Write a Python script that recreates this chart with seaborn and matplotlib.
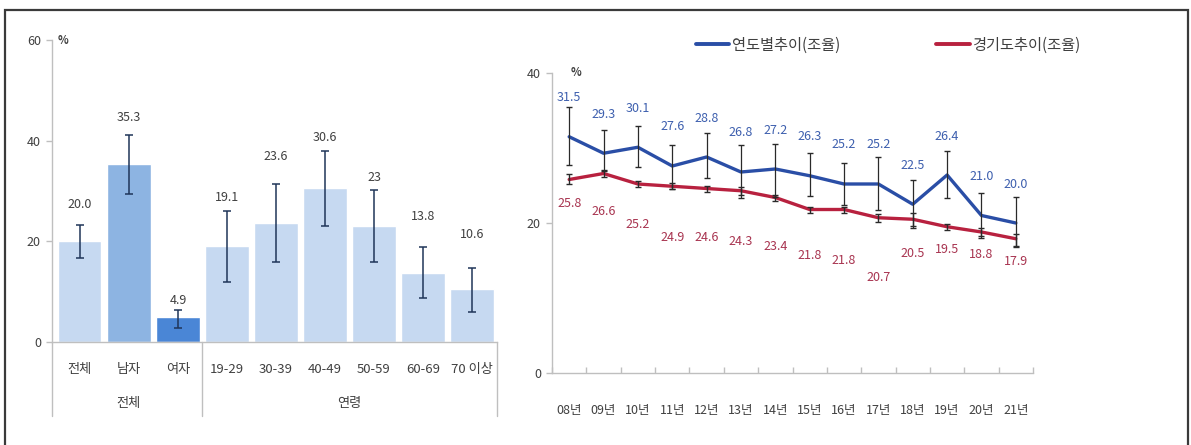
import matplotlib
matplotlib.use("Agg")
import matplotlib.pyplot as plt
import matplotlib.transforms as mtransforms
from matplotlib.patches import Rectangle
from matplotlib.lines import Line2D
import seaborn as sns
import numpy as np
import pandas as pd

# ---------------- data ----------------
bar_cats = ["전체", "남자", "여자", "19-29", "30-39", "40-49", "50-59", "60-69", "70 이상"]
bar_vals = [20.0, 35.3, 4.9, 19.1, 23.6, 30.6, 23.0, 13.8, 10.6]
bar_labels = ["20.0", "35.3", "4.9", "19.1", "23.6", "30.6", "23", "13.8", "10.6"]
bar_lo = [16.6, 29.4, 2.8, 12.0, 15.8, 23.0, 15.8, 8.8, 6.0]
bar_hi = [23.2, 41.2, 6.4, 26.0, 31.4, 38.0, 30.2, 18.8, 14.8]
groups = ["전체", "연령"]

years = ["08년", "09년", "10년", "11년", "12년", "13년", "14년",
         "15년", "16년", "17년", "18년", "19년", "20년", "21년"]
nat_vals = [31.5, 29.3, 30.1, 27.6, 28.8, 26.8, 27.2, 26.3, 25.2, 25.2, 22.5, 26.4, 21.0, 20.0]
nat_lo = [27.7, 27.0, 27.5, 24.6, 26.0, 23.3, 23.5, 23.6, 22.4, 21.7, 19.3, 23.3, 18.0, 16.8]
nat_hi = [35.5, 32.4, 32.9, 30.4, 32.0, 30.4, 30.6, 29.4, 28.0, 28.8, 25.7, 29.6, 24.0, 23.5]
gg_vals = [25.8, 26.6, 25.2, 24.9, 24.6, 24.3, 23.4, 21.8, 21.8, 20.7, 20.5, 19.5, 18.8, 17.9]
gg_lo = [25.2, 26.1, 24.8, 24.5, 24.2, 23.8, 23.0, 21.4, 21.4, 20.2, 19.6, 19.1, 18.3, 16.9]
gg_hi = [26.5, 27.1, 25.6, 25.3, 25.0, 24.8, 23.8, 22.2, 22.2, 21.2, 21.3, 19.9, 19.3, 18.6]
series_names = ["연도별추이(조율)", "경기도추이(조율)"]

# label offsets (pixels) - styling only
bar_label_off = [37, 47, 17, 48, 67, 50, 49, 56, 54]
nat_label_off = [39] * 14
gg_label_off = [24, 38, 41, 51, 49, 51, 49, 46, 51, 60, 34, 23, 23, 23]

# ---------------- style ----------------
sns.set_theme(style="white")
plt.rcParams["font.family"] = ["Noto Sans CJK KR", "DejaVu Sans"]
plt.rcParams["axes.unicode_minus"] = False

DPI = 100
W, H = 1191, 445
fig = plt.figure(figsize=(W / DPI, H / DPI), dpi=DPI)
PX2PT = 72.0 / DPI

txt_col = "#404040"
spine_col = "#bfbfbf"
light = "#c6d9f1"
mid = "#8db4e2"
dark = "#4a86d6"
bar_colors = [light, mid, dark] + [light] * 6
blue = "#2a4ea6"
red = "#b8213f"
blue_txt = "#3d5fae"
red_txt = "#a83450"
fs = 9

# figure border (bottom edge lies outside the picture)
fig.patches.append(Rectangle((5 / W, -10 / H), (1188 - 5) / W, (435 + 10) / H,
                             transform=fig.transFigure, fill=False,
                             edgecolor="#3a3a3a", linewidth=1.6))

# ---------------- left chart ----------------
axL = fig.add_axes([52 / W, (H - 342) / H, 445 / W, 302 / H])
dfb = pd.DataFrame({"cat": bar_cats, "val": bar_vals})
sns.barplot(data=dfb, x="cat", y="val", hue="cat", palette=bar_colors,
            legend=False, width=0.88, ax=axL, saturation=1)
xs = np.arange(len(bar_cats))
axL.errorbar(xs, bar_vals,
             yerr=[np.array(bar_vals) - np.array(bar_lo), np.array(bar_hi) - np.array(bar_vals)],
             fmt="none", ecolor="#1f3559", elinewidth=1.1, capsize=3.2, capthick=1.1)
for i, (v, lab, off) in enumerate(zip(bar_vals, bar_labels, bar_label_off)):
    axL.annotate(lab, (i, v), xytext=(0, off * PX2PT), textcoords="offset points",
                 ha="center", va="center", fontsize=fs, color=txt_col)
axL.set_xlim(-0.57, 8.51)
axL.set_ylim(0, 60)
axL.set_yticks([0, 20, 40, 60])
axL.set_xlabel("")
axL.set_ylabel("")
for s in ["top", "right"]:
    axL.spines[s].set_visible(False)
for s in ["left", "bottom"]:
    axL.spines[s].set_color(spine_col)
    axL.spines[s].set_linewidth(1.0)
axL.tick_params(axis="y", left=True, length=4, width=1, color=spine_col,
                labelsize=fs, labelcolor=txt_col, pad=4)
axL.tick_params(axis="x", bottom=False, labelsize=9.5, labelcolor=txt_col, pad=9)
axL.text(-0.35, 60, "%", ha="center", va="center", fontsize=8, color=txt_col,
         fontweight="bold")
trL = mtransforms.blended_transform_factory(axL.transData, axL.transAxes)
for xv in [-0.57, 2.5, 8.51]:
    axL.add_line(Line2D([xv, xv], [0, -0.245], transform=trL, color=spine_col,
                        linewidth=1.0, clip_on=False))
axL.text(1, -0.205, groups[0], transform=trL, ha="center", va="center",
         fontsize=9.5, color=txt_col)
axL.text(5.5, -0.205, groups[1], transform=trL, ha="center", va="center",
         fontsize=9.5, color=txt_col)

# ---------------- right chart ----------------
axR = fig.add_axes([552 / W, (H - 373) / H, 481 / W, 300 / H])
xr = np.arange(len(years))
dfl = pd.DataFrame({"x": np.concatenate([xr, xr]),
                    "val": nat_vals + gg_vals,
                    "series": [series_names[0]] * 14 + [series_names[1]] * 14})
sns.lineplot(data=dfl, x="x", y="val", hue="series",
             palette={series_names[0]: blue, series_names[1]: red},
             linewidth=2.4, ax=axR, legend=False, sort=False)
axR.errorbar(xr, gg_vals,
             yerr=[np.array(gg_vals) - np.array(gg_lo), np.array(gg_hi) - np.array(gg_vals)],
             fmt="none", ecolor="#2a2a2a", elinewidth=1.0, capsize=2.5, capthick=1.0, zorder=3)
axR.errorbar(xr, nat_vals,
             yerr=[np.array(nat_vals) - np.array(nat_lo), np.array(nat_hi) - np.array(nat_vals)],
             fmt="none", ecolor="#2a2a2a", elinewidth=0.9, capsize=2.5, capthick=1.0, zorder=3)
for i, (v, off) in enumerate(zip(nat_vals, nat_label_off)):
    axR.annotate(f"{v:.1f}", (i, v), xytext=(0, off * PX2PT), textcoords="offset points",
                 ha="center", va="center", fontsize=fs, color=blue_txt)
for i, (v, off) in enumerate(zip(gg_vals, gg_label_off)):
    axR.annotate(f"{v:.1f}", (i, v), xytext=(0, -off * PX2PT), textcoords="offset points",
                 ha="center", va="center", fontsize=fs, color=red_txt)
axR.set_xlim(-0.5, 13.5)
axR.set_ylim(0, 40)
axR.set_yticks([0, 20, 40])
axR.set_xticks(xr)
axR.set_xticklabels(years)
axR.set_xticks(np.arange(-0.5, 14, 1.0), minor=True)
axR.set_xlabel("")
axR.set_ylabel("")
for s in ["top", "right"]:
    axR.spines[s].set_visible(False)
for s in ["left", "bottom"]:
    axR.spines[s].set_color(spine_col)
    axR.spines[s].set_linewidth(1.0)
axR.tick_params(axis="y", left=True, length=4, width=1, color=spine_col,
                labelsize=fs, labelcolor=txt_col, pad=4)
axR.tick_params(axis="x", which="major", bottom=False, labelsize=fs,
                labelcolor=txt_col, pad=16)
axR.tick_params(axis="x", which="minor", bottom=True, length=4, width=1,
                color=spine_col, direction="in")
axR.text(0.2, 40, "%", ha="center", va="center", fontsize=8, color=txt_col,
         fontweight="bold")

handles = [Line2D([0], [0], color=blue, linewidth=2.8),
           Line2D([0], [0], color=red, linewidth=2.8)]
fig.legend(handles, series_names, loc="center", ncol=2,
           bbox_to_anchor=(888 / W, 1 - 45 / H), frameon=False, fontsize=11,
           handlelength=2.2, handletextpad=0.15, columnspacing=6.3,
           labelcolor=txt_col)

fig.savefig("out.png", dpi=DPI)
